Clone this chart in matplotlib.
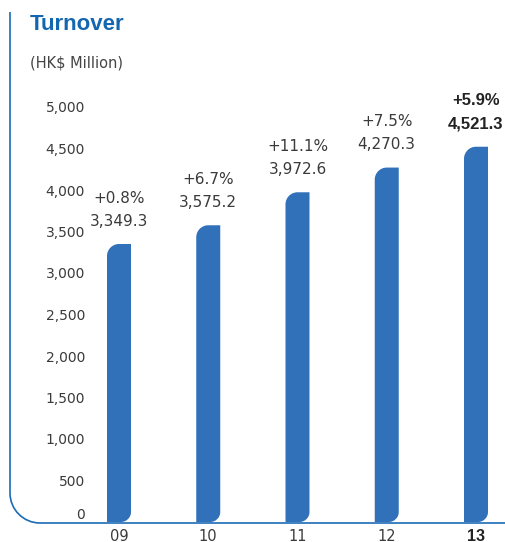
import matplotlib
matplotlib.use('Agg')
import matplotlib.pyplot as plt
from matplotlib.path import Path
from matplotlib.patches import PathPatch
import matplotlib.transforms as mtransforms

# ---- data ----
years = ['09', '10', '11', '12', '13']
turnover = [3349.3, 3575.2, 3972.6, 4270.3, 4521.3]
growth_labels = ['+0.8%', '+6.7%', '+11.1%', '+7.5%', '+5.9%']
value_labels = ['3,349.3', '3,575.2', '3,972.6', '4,270.3', '4,521.3']
yticks = [0, 500, 1000, 1500, 2000, 2500, 3000, 3500, 4000, 4500, 5000]
ytick_labels = ['0', '500', '1,000', '1,500', '2,000', '2,500', '3,000',
                '3,500', '4,000', '4,500', '5,000']

# ---- styles ----
W, H = 506, 542
BAR_COLOR = '#3071B9'
FRAME_COLOR = '#1C6BB5'
TITLE_COLOR = '#1466B0'
TEXT_COLOR = '#3A3A3A'

fig = plt.figure(figsize=(W / 100, H / 100), dpi=100)
fig.patch.set_facecolor('white')

ax_left_px, ax_right_px = 10, 506
ax_top_px, ax_bot_px = 12, 522
ax = fig.add_axes([ax_left_px / W, (H - ax_bot_px) / H,
                   (ax_right_px - ax_left_px) / W, (ax_bot_px - ax_top_px) / H])

px_per_cat = 89.25
first_center_px = 119
px_per_500 = 41.5
xmin = -(first_center_px - ax_left_px) / px_per_cat
xmax = (ax_right_px - first_center_px) / px_per_cat
ymax = (ax_bot_px - ax_top_px) * 500 / px_per_500
ax.set_xlim(xmin, xmax)
ax.set_ylim(0, ymax)
for s in ax.spines.values():
    s.set_visible(False)
ax.set_facecolor('none')

# pixel -> data conversions
dx_per_px = 1 / px_per_cat
dy_per_px = 500 / px_per_500

bar_w = 24 * dx_per_px
r_tl = 12  # px, top-left radius
r_br = 10  # px, bottom-right radius
k = 0.5523


def rounded_bar(c, h):
    x0, x1 = c - bar_w / 2, c + bar_w / 2
    r1x, r1y = r_tl * dx_per_px, r_tl * dy_per_px
    r2x, r2y = r_br * dx_per_px, r_br * dy_per_px
    verts = [
        (x0, 0),
        (x0, h - r1y),
        (x0, h - r1y + k * r1y), (x0 + r1x - k * r1x, h), (x0 + r1x, h),
        (x1, h),
        (x1, r2y),
        (x1, r2y - k * r2y), (x1 - r2x + k * r2x, 0), (x1 - r2x, 0),
        (x0, 0),
    ]
    codes = [Path.MOVETO, Path.LINETO,
             Path.CURVE4, Path.CURVE4, Path.CURVE4,
             Path.LINETO, Path.LINETO,
             Path.CURVE4, Path.CURVE4, Path.CURVE4,
             Path.CLOSEPOLY]
    return Path(verts, codes)


for i, v in enumerate(turnover):
    ax.add_patch(PathPatch(rounded_bar(i, v), facecolor=BAR_COLOR,
                           edgecolor='none'))
    last = i == len(turnover) - 1
    if last:
        style = dict(fontsize=12, fontweight='bold', color='#222222',
                     family='Liberation Sans')
    else:
        style = dict(fontsize=11, fontweight='normal', color=TEXT_COLOR,
                     family='DejaVu Sans')
    ax.annotate(value_labels[i], (i, v), xytext=(0, 23 / 1.389),
                textcoords='offset points', ha='center', va='center', **style)
    ax.annotate(growth_labels[i], (i, v), xytext=(0, 46 / 1.389),
                textcoords='offset points', ha='center', va='center', **style)

# y ticks (inside the frame)
ax.set_yticks(yticks, ytick_labels)
ax.tick_params(axis='y', length=0, pad=-75 / 1.389, labelsize=10,
               labelcolor=TEXT_COLOR)
ylabels = ax.get_yticklabels()
ylabels[0].set_va('bottom')

# x ticks
ax.set_xticks(range(len(years)), years)
ax.tick_params(axis='x', length=0, pad=5, labelsize=10.5,
               labelcolor=TEXT_COLOR)
xl = ax.get_xticklabels()
xl[-1].set_fontweight('bold')
xl[-1].set_color('#222222')
xl[-1].set_family('Liberation Sans')
xl[-1].set_fontsize(11.5)

# frame: left line with rounded bottom-left corner, then bottom line
px2fig = mtransforms.Affine2D().scale(1 / W, 1 / H) + fig.transFigure
R = 30
fx = 10
fy_top = H - 12
fy_bot = H - 523
frame_verts = [
    (fx, fy_top),
    (fx, fy_bot + R),
    (fx, fy_bot + R - k * R), (fx + R - k * R, fy_bot), (fx + R, fy_bot),
    (W, fy_bot),
]
frame_codes = [Path.MOVETO, Path.LINETO, Path.CURVE4, Path.CURVE4,
               Path.CURVE4, Path.LINETO]
fig.add_artist(PathPatch(Path(frame_verts, frame_codes), facecolor='none',
                         edgecolor=FRAME_COLOR, linewidth=1.2,
                         transform=px2fig))

# titles
fig.text(30 / W, 1 - 25 / H, 'Turnover', fontsize=16, fontweight='bold',
         color=TITLE_COLOR, family='Liberation Sans', ha='left', va='center')
fig.text(30 / W, 1 - 63 / H, '(HK$ Million)', fontsize=10.5,
         color='#444444', family='DejaVu Sans', ha='left', va='center')

fig.savefig('out.png', dpi=100, facecolor='white')
